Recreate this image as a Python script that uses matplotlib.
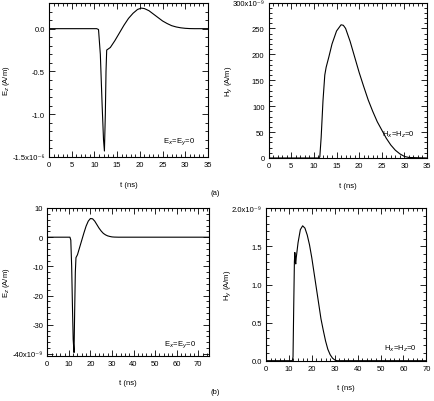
import numpy as np
import matplotlib
matplotlib.use("Agg")
import matplotlib.pyplot as plt
from matplotlib.ticker import MultipleLocator, FuncFormatter

# ---- data ----
t_ez_a = [0, 10.5, 10.9, 11.3, 11.7, 12.0, 12.2, 12.4, 12.55, 12.7, 13.5, 14.5, 15.5, 16.5,
          17.5, 18.5, 19.5, 20.3, 21, 22, 23, 24, 25, 26, 27, 28, 29, 30, 31, 32, 35]
ez_a = [0, 0, -0.01, -0.3, -0.9, -1.3, -1.43, -1.0, -0.5, -0.25, -0.22, -0.14, -0.05, 0.04,
        0.12, 0.18, 0.225, 0.24, 0.235, 0.21, 0.17, 0.13, 0.09, 0.06, 0.035, 0.02, 0.01,
        0.004, 0.001, 0, 0]  # x1e-6

t_hy_a = [0, 11.0, 11.3, 11.6, 12.0, 12.4, 12.7, 13.3, 14.0, 15.0, 16.0, 16.5, 17.0, 18.0,
          19.0, 20.0, 21.0, 22.0, 23.0, 24.0, 25.0, 26.0, 27.0, 28.0, 29.0, 30.0, 31.0, 35]
hy_a = [0, 0, 2, 40, 110, 160, 175, 195, 220, 245, 257, 256, 250, 225, 195, 165, 138, 112,
        90, 70, 54, 38, 25, 15, 8, 3, 1, 0]  # x1e-9

t_ez_b = [0, 10.5, 10.9, 11.3, 11.7, 12.0, 12.4, 12.7, 13.0, 13.3, 14, 15, 16, 17, 18, 19,
          20, 21, 22, 23, 24, 25, 26, 27, 28, 29, 30, 31, 33, 75]
ez_b = [0, 0, -1, -10, -25, -35, -39.5, -25, -12, -7, -6, -3.5, -1, 1.5, 3.8, 5.5, 6.4, 6.3,
        5.5, 4.3, 3.1, 2.1, 1.3, 0.8, 0.45, 0.25, 0.1, 0.04, 0, 0]  # x1e-9

t_hy_b = [0, 11.5, 11.8, 12.1, 12.4, 12.6, 12.8, 13.0, 13.2, 14, 15, 16, 17, 18, 19, 20, 21,
          22, 23, 24, 25, 26, 27, 28, 29, 30, 31, 70]
hy_b = [0, 0, 0.05, 0.7, 1.3, 1.42, 1.3, 1.27, 1.35, 1.55, 1.72, 1.77, 1.74, 1.65, 1.52,
        1.35, 1.15, 0.95, 0.75, 0.55, 0.4, 0.26, 0.15, 0.08, 0.035, 0.01, 0, 0]  # x1e-9

plt.rcParams['font.family'] = ['Liberation Sans', 'DejaVu Sans']
FS = 5.5

fig = plt.figure(figsize=(4.34, 4.02), dpi=100)
W, H = 434, 402

def add_ax(l, r, t, b):
    return fig.add_axes([l / W, 1 - b / H, (r - l) / W, (b - t) / H])

def style(ax, xlim, xmaj, xmin, ylim, ymaj, ymin, ylabel, ylab_x, ann, ann_xy, fmt):
    ax.set_xlim(*xlim)
    ax.set_ylim(*ylim)
    ax.xaxis.set_major_locator(MultipleLocator(xmaj))
    ax.xaxis.set_minor_locator(MultipleLocator(xmin))
    ax.yaxis.set_major_locator(MultipleLocator(ymaj))
    ax.yaxis.set_minor_locator(MultipleLocator(ymin))
    ax.tick_params(which='both', direction='in', top=True, right=True, labelsize=FS,
                   width=0.6, pad=3)
    ax.tick_params(which='major', length=4)
    ax.tick_params(which='minor', length=2)
    for s in ax.spines.values():
        s.set_linewidth(0.8)
    ax.yaxis.set_major_formatter(FuncFormatter(fmt))
    ax.set_xlabel('t (ns)', fontsize=FS, labelpad=9)
    ax.set_ylabel(ylabel, fontsize=FS)
    ax.yaxis.set_label_coords(ylab_x, 0.5)
    ax.text(ann_xy[0], ann_xy[1], ann, transform=ax.transAxes, fontsize=FS,
            ha='center', va='center')

# (a) left
ax1 = add_ax(49, 208, 4, 158)
ax1.plot(t_ez_a, ez_a, color='black', lw=0.8)
style(ax1, (0, 35), 5, 1, (-1.5, 0.3), 0.5, 0.1, 'E$_z$ (A/m)', -0.235,
      'E$_x$=E$_y$=0', (0.82, 0.10),
      lambda v, p: '-1.5x10⁻⁶' if abs(v + 1.5) < 1e-6 else ('0.0' if abs(v) < 1e-9 else f'{v:.1f}'))

# (a) right
ax2 = add_ax(268.7, 427, 3.5, 159)
ax2.plot(t_hy_a, hy_a, color='black', lw=0.8)
style(ax2, (0, 35), 5, 1, (0, 300), 50, 10, 'H$_y$ (A/m)', -0.215,
      'H$_x$=H$_z$=0', (0.82, 0.154),
      lambda v, p: '300x10⁻⁹' if abs(v - 300) < 1e-6 else f'{v:.0f}')

# (b) left
ax3 = add_ax(47.3, 209, 209, 356.7)
ax3.plot(t_ez_b, ez_b, color='black', lw=0.8)
style(ax3, (0, 75), 10, 2, (-40.6, 10), 10, 2, 'E$_z$ (A/m)', -0.22,
      'E$_x$=E$_y$=0', (0.82, 0.079),
      lambda v, p: '-40x10⁻⁹' if abs(v + 40) < 1e-6 else f'{v:.0f}')

# (b) right
ax4 = add_ax(266, 426.3, 209.3, 361.7)
ax4.plot(t_hy_b, hy_b, color='black', lw=0.8)
style(ax4, (0, 70), 10, 2, (0, 2.0), 0.5, 0.1, 'H$_y$ (A/m)', -0.2,
      'H$_x$=H$_z$=0', (0.838, 0.088),
      lambda v, p: '2.0x10⁻⁹' if abs(v - 2.0) < 1e-6 else f'{v:.1f}')

fig.text(215 / W, 1 - 194 / H, '(a)', fontsize=FS, ha='center', va='center')
fig.text(215 / W, 1 - 393 / H, '(b)', fontsize=FS, ha='center', va='center')

fig.savefig('out.png', dpi=100, facecolor='white')
